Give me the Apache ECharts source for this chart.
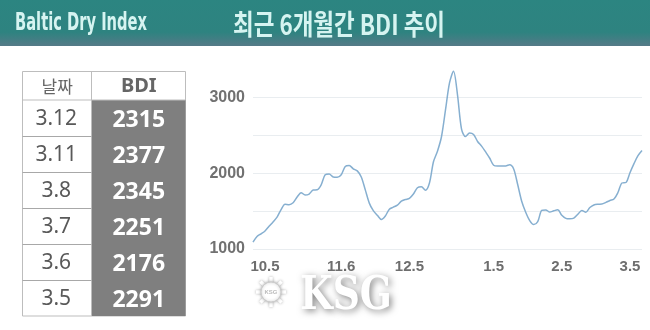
<!DOCTYPE html>
<html>
<head>
<meta charset="utf-8">
<script src="https://cdn.jsdelivr.net/npm/echarts@6/dist/echarts.min.js"></script>
<style>
html,body{margin:0;padding:0;background:#fff;}
#chart{width:650px;height:330px;}
</style>
</head>
<body>
<div id="chart"></div>
<script>
// ---- data ----
const headerLeft = 'Baltic Dry Index';
const headerTitle = '최근 6개월간 BDI 추이';
const tableHead = ['날짜', 'BDI'];
const tableDates = ['3.12', '3.11', '3.8', '3.7', '3.6', '3.5'];
const tableBdi = [2315, 2377, 2345, 2251, 2176, 2291];

// x categories (trading days); only labelled days carry text
const xCategories = [
  '', '', '', '10.5', '', '', '', '', '', '', '', '', '', '',
  '', '', '', '', '', '', '', '', '11.6', '', '', '', '', '',
  '', '', '', '', '', '', '', '', '', '', '', '12.5', '', '',
  '', '', '', '', '', '', '', '', '', '', '', '', '', '',
  '', '', '', '', '1.5', '', '', '', '', '', '', '', '', '',
  '', '', '', '', '', '', '', '2.5', '', '', '', '', '', '',
  '', '', '', '', '', '', '', '', '', '', '3.5', '', '', ''
];
// BDI values
const bdiSeries = [
  1090, 1165, 1200, 1238, 1300, 1357, 1420, 1520, 1590, 1585, 1610, 1685, 1742, 1712,
  1725, 1777, 1780, 1846, 1978, 1988, 1950, 1947, 1980, 2088, 2100, 2058, 2030, 1950,
  1780, 1605, 1505, 1445, 1390, 1436, 1525, 1552, 1578, 1630, 1652, 1668, 1725, 1808,
  1820, 1775, 1870, 2150, 2290, 2480, 2833, 3190, 3345, 3030, 2580, 2482, 2528, 2510,
  2418, 2356, 2280, 2200, 2105, 2096, 2096, 2096, 2110, 2055, 1850, 1630, 1485, 1375,
  1322, 1360, 1509, 1515, 1487, 1504, 1516, 1445, 1404, 1398, 1407, 1458, 1508, 1486,
  1547, 1581, 1590, 1592, 1614, 1640, 1660, 1745, 1870, 1877, 2005, 2125, 2230, 2298
];
const yTicks = [1000, 2000, 3000];

// ---- helpers ----
const measureCtx = document.createElement('canvas').getContext('2d');
function fitScale(text, font, targetW) {
  measureCtx.font = font;
  const w = measureCtx.measureText(text).width;
  return w > 0 ? targetW / w : 1;
}

// ---- build ----
const chart = echarts.init(document.getElementById('chart'), null, {renderer: 'canvas'});

const graphics = [];
// header band
graphics.push({
  type: 'rect', shape: {x: 0, y: 0, width: 650, height: 46}, z: 1,
  style: {fill: new echarts.graphic.LinearGradient(0, 0, 0, 1, [
    {offset: 0, color: '#2C8581'}, {offset: 0.7, color: '#2E8380'}, {offset: 1, color: '#557A87'}
  ])}
});
const fontLeft = 'bold 24px "DejaVu Sans", sans-serif';
graphics.push({
  type: 'text', x: 15, y: 24, z: 2, scaleX: fitScale(headerLeft, fontLeft, 132),
  style: {text: headerLeft, fill: '#D6F4F1', font: fontLeft, textAlign: 'left', textVerticalAlign: 'middle'}
});
const fontTitle = 'bold 28px "Noto Sans CJK KR", sans-serif';
graphics.push({
  type: 'text', x: 233, y: 24, z: 2, scaleX: fitScale(headerTitle, fontTitle, 212),
  style: {text: headerTitle, fill: '#D6F4F1', font: fontTitle, textAlign: 'left', textVerticalAlign: 'middle'}
});

// table
const tX = 22.5, tY = 71.5, tW = 163, headH = 28.5, rowH = 36;
const colX = 92;
const tH = headH + rowH * tableDates.length;
graphics.push({type: 'rect', shape: {x: tX, y: tY, width: tW, height: tH}, z: 2,
  style: {fill: '#fff', stroke: '#BDBDBD', lineWidth: 1}});
graphics.push({type: 'rect', shape: {x: colX, y: tY + headH, width: tX + tW - colX, height: tH - headH}, z: 3,
  style: {fill: '#7F7F7F'}});
graphics.push({type: 'line', shape: {x1: colX - 0.5, y1: tY, x2: colX - 0.5, y2: tY + tH}, z: 4,
  style: {stroke: '#BDBDBD', lineWidth: 1}});
graphics.push({type: 'line', shape: {x1: tX, y1: tY + headH, x2: tX + tW, y2: tY + headH}, z: 4,
  style: {stroke: '#BDBDBD', lineWidth: 1}});
for (let i = 1; i < tableDates.length; i++) {
  const yy = Math.round(tY + headH + rowH * i) + 0.5;
  graphics.push({type: 'line', shape: {x1: tX, y1: yy, x2: colX - 0.5, y2: yy}, z: 4,
    style: {stroke: '#A8A8A8', lineWidth: 1}});
}
const leftC = (tX + colX) / 2, rightC = (colX + tX + tW) / 2;
graphics.push({type: 'text', x: leftC, y: tY + headH / 2 + 1, z: 5,
  style: {text: tableHead[0], fill: '#666', font: '17px "Noto Sans CJK KR", sans-serif', textAlign: 'center', textVerticalAlign: 'middle'}});
graphics.push({type: 'text', x: rightC, y: tY + headH / 2 + 1, z: 5,
  style: {text: tableHead[1], fill: '#666', font: 'bold 20px "Noto Sans", sans-serif', textAlign: 'center', textVerticalAlign: 'middle'}});
tableDates.forEach((d, i) => {
  const cy = tY + headH + rowH * i + rowH / 2 + 1.5;
  graphics.push({type: 'text', x: leftC - 1, y: cy, z: 5,
    style: {text: d, fill: '#595959', font: '21px "Noto Sans", sans-serif', textAlign: 'center', textVerticalAlign: 'middle'}});
  graphics.push({type: 'text', x: rightC, y: cy + 1, z: 5,
    style: {text: String(tableBdi[i]), fill: '#fff', font: 'bold 23px "Noto Sans", sans-serif', textAlign: 'center', textVerticalAlign: 'middle'}});
});

// KSG watermark
const wcx = 271, wcy = 292;
for (let k = 0; k < 8; k++) {
  const a = k * Math.PI / 4;
  graphics.push({type: 'line', z: 5,
    shape: {x1: wcx + Math.cos(a) * 9, y1: wcy + Math.sin(a) * 9, x2: wcx + Math.cos(a) * 15, y2: wcy + Math.sin(a) * 15},
    style: {stroke: '#fff', lineWidth: 3.5, shadowColor: 'rgba(0,0,0,0.35)', shadowBlur: 3}});
}
graphics.push({type: 'circle', shape: {cx: wcx, cy: wcy, r: 10}, z: 6,
  style: {fill: '#fff', stroke: '#ccc', lineWidth: 1, shadowColor: 'rgba(0,0,0,0.3)', shadowBlur: 3}});
graphics.push({type: 'text', x: wcx, y: wcy, z: 7,
  style: {text: 'KSG', fill: '#bbb', font: 'bold 6px sans-serif', textAlign: 'center', textVerticalAlign: 'middle'}});
const fontKsg = '900 46px "DejaVu Serif", "Liberation Serif", serif';
graphics.push({type: 'text', x: 300, y: 297, z: 6, scaleX: fitScale('KSG', fontKsg, 92),
  style: {text: 'KSG', fill: '#fff', font: fontKsg, textAlign: 'left', textVerticalAlign: 'middle',
    textShadowColor: 'rgba(0,0,0,0.5)', textShadowBlur: 7, textShadowOffsetX: 2, textShadowOffsetY: 2}});

chart.setOption({
  animation: false,
  backgroundColor: '#fff',
  grid: {left: 253, right: 8, top: 59.4, bottom: 81},
  xAxis: {
    type: 'category', data: xCategories, boundaryGap: false,
    axisLine: {show: false}, axisTick: {show: false}, splitLine: {show: false},
    axisLabel: {interval: 0, margin: 10, color: '#6E6E6E', fontWeight: 'bold', fontSize: 15,
      fontFamily: '"Liberation Sans", Arial, sans-serif'}
  },
  yAxis: {
    type: 'value', min: 1000, max: 3500, interval: 500,
    axisLine: {show: false}, axisTick: {show: false},
    splitLine: {show: true, showMaxLine: false, lineStyle: {color: '#E9EDF0', width: 1}},
    axisLabel: {margin: 8, color: '#717171', fontWeight: 'bold', fontSize: 16,
      fontFamily: '"Liberation Sans", Arial, sans-serif',
      formatter: v => (yTicks.indexOf(v) >= 0 ? String(v) : '')}
  },
  series: [{
    type: 'line', data: bdiSeries, smooth: 0.3, symbol: 'none',
    lineStyle: {color: '#86AFD0', width: 1.5}
  }],
  graphic: graphics
});
</script>
</body>
</html>
